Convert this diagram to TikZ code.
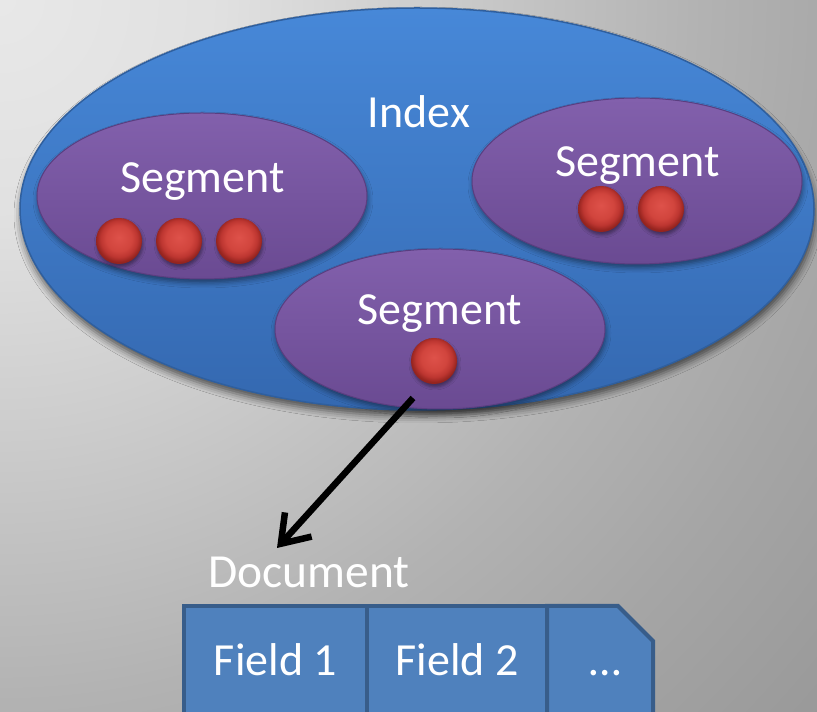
\documentclass[tikz,border=0pt]{standalone}
\usepackage{fontspec}
\setmainfont{Carlito}
\usetikzlibrary{arrows.meta,shapes.geometric,shapes.misc,shadows.blur}

\definecolor{idxTop}{HTML}{4788D8}
\definecolor{idxBot}{HTML}{3468B0}
\definecolor{idxEdge}{HTML}{2F5F9E}
\definecolor{segTop}{HTML}{8260AC}
\definecolor{segBot}{HTML}{6A4A92}
\definecolor{segEdge}{HTML}{5A3E80}
\definecolor{fieldFill}{HTML}{4F81BD}
\definecolor{fieldEdge}{HTML}{385D8A}

% soft grey backdrop, light in the top left corner (25bp = edge of the path box)
\pgfdeclareradialshading{slidebg}{\pgfpoint{0bp}{0bp}}{%
  rgb(0bp)=(0.91,0.91,0.91); rgb(5bp)=(0.88,0.88,0.88);
  rgb(10bp)=(0.80,0.80,0.80); rgb(16bp)=(0.70,0.70,0.70);
  rgb(20bp)=(0.65,0.65,0.65); rgb(25bp)=(0.60,0.60,0.60);
  rgb(50bp)=(0.60,0.60,0.60)}

% red document marker
\pgfdeclareradialshading{redball}{\pgfpoint{0bp}{4bp}}{%
  rgb(0bp)=(0.87,0.32,0.29); rgb(14bp)=(0.82,0.27,0.24);
  rgb(20bp)=(0.74,0.21,0.19); rgb(25bp)=(0.58,0.14,0.12);
  rgb(50bp)=(0.58,0.14,0.12)}

\tikzset{
  indexshape/.style={ellipse, inner sep=0pt, minimum width=794pt, minimum height=402pt,
    top color=idxTop, bottom color=idxBot, draw=idxEdge, line width=1.5pt,
    blur shadow={shadow xshift=1pt, shadow yshift=-6pt, shadow blur radius=7pt, shadow opacity=60}},
  segshape/.style={ellipse, inner sep=0pt, minimum width=330pt, minimum height=166pt,
    top color=segTop, bottom color=segBot, draw=segEdge, line width=1pt,
    blur shadow={shadow xshift=1pt, shadow yshift=-4pt, shadow blur radius=5pt, shadow opacity=45}},
  docball/.style={circle, inner sep=0pt, minimum size=46pt, shading=redball,
    blur shadow={shadow xshift=1pt, shadow yshift=-3pt, shadow blur radius=3pt, shadow opacity=40}},
  lbl/.style={text=white, inner sep=0pt, anchor=base, font=\fontsize{46}{55}\selectfont},
  fieldbox/.style={rectangle, fill=fieldFill, draw=fieldEdge, line width=4pt,
    minimum height=110pt, inner sep=0pt, text=white, text height=30pt, text depth=0pt,
    font=\fontsize{46}{55}\selectfont},
  linkarrow/.style={line width=6.5pt, -{Straight Barb[length=26pt, width=36pt]}}
}

\begin{document}
\begin{tikzpicture}[x=1pt, y=1pt]
  \useasboundingbox (0,0) rectangle (817,712);
  \begin{scope}
    \clip (0,0) rectangle (817,712);
    \shade[shading=slidebg] (0,712) circle (1090);
  \end{scope}

  % index with its three segments
  \node[indexshape] (index) at (417,503) {};
  \node[lbl] (indexlabel) at (419,584) {Index};

  \node[segshape] (segA) at (202,516) {};
  \node[segshape] (segB) at (637,531) {};
  \node[segshape, minimum height=160pt] (segC) at (440,383) {};

  \node[lbl] (segAlabel) at (202.5,519) {Segment};
  \node[lbl] (segBlabel) at (637.5,535) {Segment};
  \node[lbl] (segClabel) at (440,387) {Segment};

  % documents held by each segment
  \node[docball] (a1) at (119,471) {};
  \node[docball] (a2) at (179,471) {};
  \node[docball] (a3) at (239,471) {};
  \node[docball] (b1) at (601,503) {};
  \node[docball] (b2) at (661,503) {};
  \node[docball] (c1) at (434,351) {};

  % one document and its fields
  \node[lbl, anchor=base west, font=\fontsize{47.5}{55}\selectfont] (doc) at (208,124) {Document};
  \coordinate (from) at (413,314);
  \coordinate (tip) at (277,164);
  \draw[linkarrow] (from) -- (tip);

  \node[fieldbox, minimum width=183pt] (f1) at (275.5,51) {Field 1};
  \node[fieldbox, minimum width=180pt] (f2) at (457,51) {Field 2};
  \node[fieldbox, chamfered rectangle, chamfered rectangle corners=north east,
        chamfered rectangle xsep=18pt, chamfered rectangle ysep=20pt,
        minimum width=106pt] (f3) at (600,51) {\hspace{10pt}…};
\end{tikzpicture}
\end{document}
